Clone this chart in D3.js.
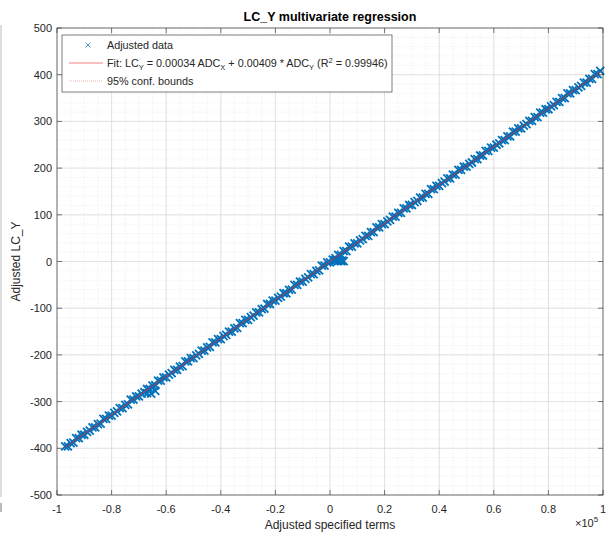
<!DOCTYPE html>
<html>
<head>
<meta charset="utf-8">
<script src="https://cdn.jsdelivr.net/npm/d3@7"></script>
<style>
  body { margin: 0; background: #fff; overflow: hidden; }
  svg { display: block; font-family: "Liberation Sans", Arial, sans-serif; }
</style>
</head>
<body>
<div id="chart"></div>
<script>
// adjusted data (x in units of 1e5)
var adjX = [-0.97,-0.96,-0.95,-0.94,-0.93,-0.92,-0.91,-0.90,-0.89,-0.88,-0.87,-0.86,-0.85,-0.84,-0.83,-0.82,-0.81,-0.80,-0.79,-0.78,
  -0.77,-0.76,-0.75,-0.74,-0.73,-0.72,-0.71,-0.70,-0.69,-0.68,-0.67,-0.66,-0.65,-0.64,-0.63,-0.62,-0.61,-0.60,-0.59,-0.58,
  -0.57,-0.56,-0.55,-0.54,-0.53,-0.52,-0.51,-0.50,-0.49,-0.48,-0.47,-0.46,-0.45,-0.44,-0.43,-0.42,-0.41,-0.40,-0.39,-0.38,
  -0.37,-0.36,-0.35,-0.34,-0.33,-0.32,-0.31,-0.30,-0.29,-0.28,-0.27,-0.26,-0.25,-0.24,-0.23,-0.22,-0.21,-0.20,-0.19,-0.18,
  -0.17,-0.16,-0.15,-0.14,-0.13,-0.12,-0.11,-0.10,-0.09,-0.08,-0.07,-0.06,-0.05,-0.04,-0.03,-0.02,-0.01,0.00,0.01,0.02,
  0.03,0.04,0.05,0.06,0.07,0.08,0.09,0.10,0.11,0.12,0.13,0.14,0.15,0.16,0.17,0.18,0.19,0.20,0.21,0.22,
  0.23,0.24,0.25,0.26,0.27,0.28,0.29,0.30,0.31,0.32,0.33,0.34,0.35,0.36,0.37,0.38,0.39,0.40,0.41,0.42,
  0.43,0.44,0.45,0.46,0.47,0.48,0.49,0.50,0.51,0.52,0.53,0.54,0.55,0.56,0.57,0.58,0.59,0.60,0.61,0.62,
  0.63,0.64,0.65,0.66,0.67,0.68,0.69,0.70,0.71,0.72,0.73,0.74,0.75,0.76,0.77,0.78,0.79,0.80,0.81,0.82,
  0.83,0.84,0.85,0.86,0.87,0.88,0.89,0.90,0.91,0.92,0.93,0.94,0.95,0.96,0.97,0.98,0.99,
  0.015,0.02,0.025,0.03,0.035,0.04,0.045,0.05,-0.67,-0.655,-0.64];
var adjY = [-396,-396,-389,-388,-378,-378,-371,-371,-365,-362,-355,-355,-348,-347,-337,-337,-330,-330,-324,-321,
  -314,-314,-307,-306,-296,-296,-289,-289,-283,-280,-273,-273,-266,-265,-255,-255,-248,-248,-242,-239,
  -232,-232,-225,-224,-214,-214,-207,-207,-201,-198,-191,-191,-184,-183,-173,-173,-166,-166,-160,-157,
  -150,-150,-143,-142,-132,-132,-125,-125,-119,-116,-109,-109,-102,-101,-91,-91,-84,-84,-78,-75,
  -68,-68,-61,-60,-50,-50,-43,-43,-37,-34,-27,-27,-20,-19,-9,-9,-2,-2,4,7,
  14,14,22,22,32,32,39,39,45,48,55,55,63,63,73,73,80,80,86,89,
  96,96,104,104,114,114,121,121,127,130,137,137,145,145,155,155,162,162,168,171,
  178,178,186,186,196,196,203,203,209,212,219,219,227,227,237,237,244,244,250,253,
  260,260,268,268,278,278,285,285,291,294,301,301,309,309,319,319,326,326,332,335,
  342,342,350,350,360,360,367,367,373,376,383,383,391,391,401,401,408,
  2,3,3,1,3,1,2,1,-282,-283,-277];

// fit and 95% bounds
var fitX = [-0.97, 0.99];
var fitY = [-398, 406];
var confUpperY = [-396.5, 407.5];
var confLowerY = [-399.5, 404.5];

var xTicks = [-1, -0.8, -0.6, -0.4, -0.2, 0, 0.2, 0.4, 0.6, 0.8, 1];
var yTicks = [-500, -400, -300, -200, -100, 0, 100, 200, 300, 400, 500];

var width = 608, height = 534;
var mLeft = 57, mRight = 603, mTop = 28, mBottom = 495;
var blue = "#0072BD", red = "#ff0000", axisCol = "#262626";

var svg = d3.select("#chart").append("svg")
  .attr("width", width).attr("height", height);

// stray edge of neighbouring figure
svg.append("line").attr("x1", 1).attr("x2", 1).attr("y1", 25).attr("y2", 497)
  .attr("stroke", "#bdbdbd").attr("stroke-width", 1);
svg.append("line").attr("x1", 1).attr("x2", 1).attr("y1", 503).attr("y2", 512)
  .attr("stroke", "#777").attr("stroke-width", 1);

var x = d3.scaleLinear().domain([-1, 1]).range([mLeft, mRight]);
var y = d3.scaleLinear().domain([-500, 500]).range([mBottom, mTop]);

// minor grid
var g = svg.append("g");
g.selectAll(".mx").data(d3.range(-1, 1.0001, 0.05)).enter().append("line")
  .attr("x1", d => x(d)).attr("x2", d => x(d)).attr("y1", mTop).attr("y2", mBottom)
  .attr("stroke", "#e6e6e6").attr("stroke-width", 0.7).attr("stroke-dasharray", "1,1.5");
g.selectAll(".my").data(d3.range(-500, 500.01, 20)).enter().append("line")
  .attr("y1", d => y(d)).attr("y2", d => y(d)).attr("x1", mLeft).attr("x2", mRight)
  .attr("stroke", "#e6e6e6").attr("stroke-width", 0.7).attr("stroke-dasharray", "1,1.5");
// major grid
g.selectAll(".gx").data(xTicks).enter().append("line")
  .attr("x1", d => x(d)).attr("x2", d => x(d)).attr("y1", mTop).attr("y2", mBottom)
  .attr("stroke", "#dcdcdc").attr("stroke-width", 0.8);
g.selectAll(".gy").data(yTicks).enter().append("line")
  .attr("y1", d => y(d)).attr("y2", d => y(d)).attr("x1", mLeft).attr("x2", mRight)
  .attr("stroke", "#dcdcdc").attr("stroke-width", 0.8);

// markers
var r = 4;
svg.append("g").selectAll("path").data(adjX).enter().append("path")
  .attr("d", (d, i) => {
    var cx = x(d), cy = y(adjY[i]);
    return "M" + (cx - r) + "," + (cy - r) + "L" + (cx + r) + "," + (cy + r) +
      "M" + (cx - r) + "," + (cy + r) + "L" + (cx + r) + "," + (cy - r);
  })
  .attr("stroke", blue).attr("stroke-width", 1.8).attr("fill", "none");

// fit + bounds
var line = d3.line().x(d => x(d[0])).y(d => y(d[1]));
svg.append("path").attr("d", line(d3.zip(fitX, confUpperY)))
  .attr("stroke", red).attr("stroke-width", 0.5).attr("stroke-dasharray", "1,1.5").attr("fill", "none").attr("opacity", 0.6);
svg.append("path").attr("d", line(d3.zip(fitX, confLowerY)))
  .attr("stroke", red).attr("stroke-width", 0.5).attr("stroke-dasharray", "1,1.5").attr("fill", "none").attr("opacity", 0.6);
svg.append("path").attr("d", line(d3.zip(fitX, fitY)))
  .attr("stroke", "#e8262a").attr("stroke-width", 0.8).attr("fill", "none").attr("opacity", 0.8);

// axes (inward ticks, box)
var tl = 5;
var ax = svg.append("g").attr("stroke", axisCol).attr("stroke-width", 0.6);
ax.append("rect").attr("x", mLeft).attr("y", mTop).attr("width", mRight - mLeft).attr("height", mBottom - mTop)
  .attr("fill", "none");
xTicks.forEach(function(t) {
  ax.append("line").attr("x1", x(t)).attr("x2", x(t)).attr("y1", mBottom).attr("y2", mBottom - tl);
  ax.append("line").attr("x1", x(t)).attr("x2", x(t)).attr("y1", mTop).attr("y2", mTop + tl);
});
yTicks.forEach(function(t) {
  ax.append("line").attr("y1", y(t)).attr("y2", y(t)).attr("x1", mLeft).attr("x2", mLeft + tl);
  ax.append("line").attr("y1", y(t)).attr("y2", y(t)).attr("x1", mRight).attr("x2", mRight - tl);
});

svg.append("g").selectAll("text").data(xTicks).enter().append("text")
  .attr("x", d => x(d)).attr("y", mBottom + 18).attr("text-anchor", "middle")
  .attr("font-size", 11).attr("fill", axisCol).text(d => String(d));
svg.append("g").selectAll("text").data(yTicks).enter().append("text")
  .attr("x", mLeft - 5).attr("y", d => y(d) + 4).attr("text-anchor", "end")
  .attr("font-size", 11).attr("fill", axisCol).text(d => String(d));

// exponent
var ex = svg.append("text").attr("x", 575).attr("y", 527).attr("font-size", 11).attr("fill", axisCol);
ex.append("tspan").text("\u00d710");
ex.append("tspan").attr("dy", -5).attr("font-size", 8).text("5");

// title and labels
svg.append("text").attr("x", 330).attr("y", 21).attr("text-anchor", "middle")
  .attr("font-size", 12.5).attr("font-weight", "bold").attr("fill", "#000").text("LC_Y multivariate regression");
svg.append("text").attr("x", 330).attr("y", 529).attr("text-anchor", "middle")
  .attr("font-size", 12).attr("fill", axisCol).text("Adjusted specified terms");
svg.append("text").attr("transform", "translate(20," + y(0) + ") rotate(-90)").attr("text-anchor", "middle")
  .attr("font-size", 12).attr("fill", axisCol).text("Adjusted LC_Y");

// legend
var lg = svg.append("g");
lg.append("rect").attr("x", 62).attr("y", 35).attr("width", 330).attr("height", 57)
  .attr("fill", "#fff").attr("stroke", axisCol).attr("stroke-width", 0.6);
var lx = 88, ly = 45;
lg.append("path").attr("d", "M" + (lx - 2.5) + "," + (ly - 2.5) + "L" + (lx + 2.5) + "," + (ly + 2.5) +
  "M" + (lx - 2.5) + "," + (ly + 2.5) + "L" + (lx + 2.5) + "," + (ly - 2.5))
  .attr("stroke", "#5b9bd5").attr("stroke-width", 1);
lg.append("line").attr("x1", 69).attr("x2", 103).attr("y1", 63).attr("y2", 63)
  .attr("stroke", "#f08080").attr("stroke-width", 1);
lg.append("line").attr("x1", 69).attr("x2", 103).attr("y1", 81).attr("y2", 81)
  .attr("stroke", "#f4a0a0").attr("stroke-width", 0.8).attr("stroke-dasharray", "1,1");

var fs = 10.8;
lg.append("text").attr("x", 107).attr("y", 49).attr("font-size", fs).attr("fill", axisCol).text("Adjusted data");
var ft = lg.append("text").attr("x", 107).attr("y", 67).attr("font-size", fs).attr("fill", axisCol);
ft.append("tspan").text("Fit: LC");
ft.append("tspan").attr("font-size", 7.5).attr("dy", 3).text("Y");
ft.append("tspan").attr("dy", -3).text(" = 0.00034 ADC");
ft.append("tspan").attr("font-size", 7.5).attr("dy", 3).text("X");
ft.append("tspan").attr("dy", -3).text(" + 0.00409 * ADC");
ft.append("tspan").attr("font-size", 7.5).attr("dy", 3).text("Y");
ft.append("tspan").attr("dy", -3).text(" (R");
ft.append("tspan").attr("font-size", 7.5).attr("dy", -4).text("2");
ft.append("tspan").attr("dy", 4).text(" = 0.99946)");
lg.append("text").attr("x", 107).attr("y", 85).attr("font-size", fs).attr("fill", axisCol)
  .text("95% conf. bounds");
</script>
</body>
</html>
